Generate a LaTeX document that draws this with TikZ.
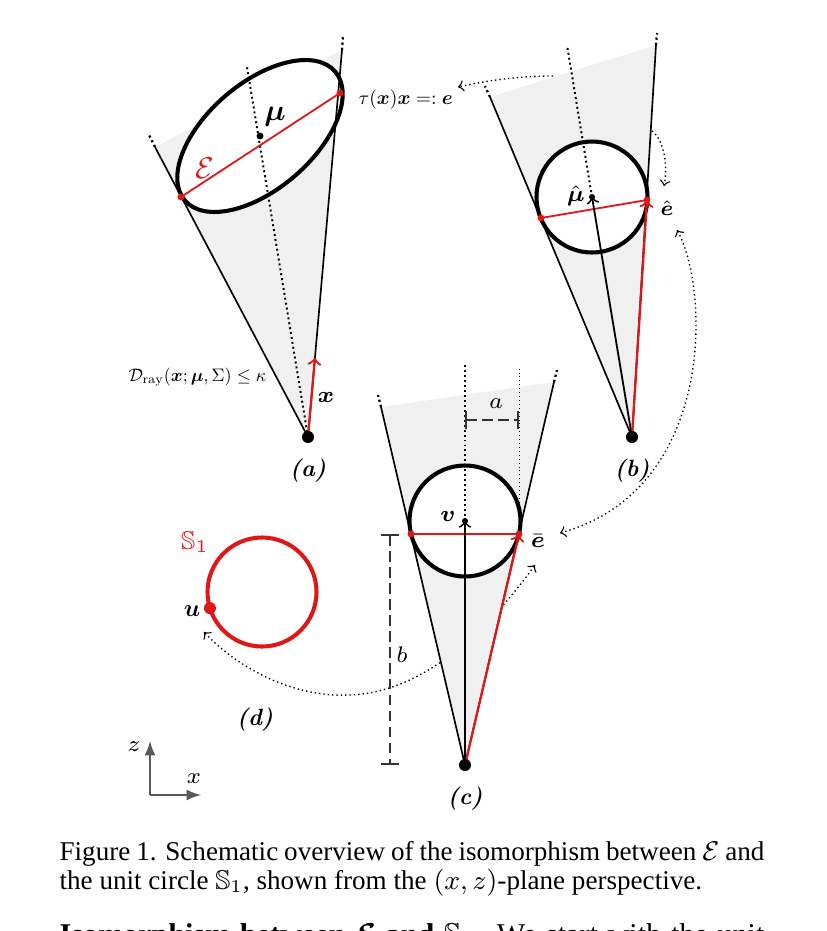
\RequirePackage{fix-cm}
\documentclass[tikz,border=0pt]{standalone}
\usepackage{amsmath,amssymb}
\usepackage{fontspec}
\newfontfamily\capfont{Liberation Serif}
\usepackage{tikz}
\usetikzlibrary{calc, arrows, positioning}
\definecolor{ered}{RGB}{222,24,24}
\definecolor{coneg}{gray}{0.94}

\tikzset{
  cone/.style={fill=coneg},
  coneside/.style={line width=0.55pt},
  sidetip/.style={line width=0.75pt, densely dotted},
  axisdot/.style={line width=0.65pt, densely dotted},
  blob/.style={line width=1.35pt, fill=white},
  chord/.style={ered, line width=0.6pt},
  redvec/.style={ered, line width=0.75pt, ->},
  blkvec/.style={line width=0.6pt, ->},
  rdot/.style={circle, fill=ered, inner sep=0pt, minimum size=2.3pt},
  bdot/.style={circle, fill=black, inner sep=0pt, minimum size=#1},
  link/.style={line width=0.45pt, densely dotted},
  dimline/.style={black!80, line width=0.55pt, dash pattern=on 3.5pt off 1.8pt, |-|},
  panel/.style={font=\fontsize{7.8}{9}\selectfont\bfseries\itshape, inner sep=0pt},
  smalllab/.style={font=\fontsize{10}{12}\selectfont, inner sep=0pt, anchor=base west},
  midlab/.style={font=\fontsize{7.5}{9}\selectfont, inner sep=0pt},
  biglab/.style={font=\fontsize{10}{12}\selectfont, inner sep=0pt},
  captext/.style={font=\fontsize{9}{10}\selectfont\capfont, inner sep=0pt, anchor=base west},
}

\begin{document}
\begin{tikzpicture}[x=0.332pt, y=-0.332pt]
\useasboundingbox (0,0) rectangle (826,931);
\clip (0,0) rectangle (826,931);

% (a)
\coordinate (A) at (308,437);
\coordinate (aL) at (155,147);
\coordinate (aLx) at (148,133);
\coordinate (aR) at (342,50);
\coordinate (aRx) at (343,35);
\coordinate (aE) at (260,136);
\coordinate (aT) at (247,67);
\coordinate (aP) at (181,197);
\coordinate (aQ) at (340,93);
% (b)
\coordinate (B) at (632,437);
\coordinate (bL) at (490,97);
\coordinate (bLx) at (485,86);
\coordinate (bR) at (656,45);
\coordinate (bRx) at (657,33);
\coordinate (bE) at (592,197);
\coordinate (bT) at (567,45);
\coordinate (bP) at (541,218);
\coordinate (bQ) at (647,200);
% (c)
\coordinate (C) at (465,765);
\coordinate (cL) at (381,407);
\coordinate (cLx) at (378,395);
\coordinate (cR) at (554,382);
\coordinate (cRx) at (557,370);
\coordinate (cE) at (465,521);
\coordinate (cT) at (465,362);
\coordinate (cP) at (411,534);
\coordinate (cQ) at (519,534);
\coordinate (cQt) at (519,368);
\coordinate (dimA1) at (465,420);
\coordinate (dimA2) at (519,420);
\coordinate (dimB1) at (390,534);
\coordinate (dimB2) at (390,765);
% (d)
\coordinate (dE) at (262,592);
\coordinate (dU) at ($(dE)+(162.8:54.5)$);
% links
\coordinate (l1s) at (553,76);
\coordinate (l1e) at (458,87);
\coordinate (l2s) at (652,131);
\coordinate (l2e) at (664,186);
\coordinate (l3s) at (677,230);
\coordinate (l3e) at (560,533);
\coordinate (l4s) at (535,565);
\coordinate (l4m) at (350,695);
\coordinate (l4e) at (204,632);
% axes
\coordinate (O) at (150,795);
\coordinate (Oz) at (150,741);
\coordinate (Ox) at (201,795);

% dotted links go under the cones
\draw[link, ->] (l1s) .. controls (520,76) and (490,80) .. (l1e);
\draw[link, ->] (l2s) .. controls (664,140) and (668,165) .. (l2e);
\draw[link, <->] (l3s) .. controls (710,290) and (715,490) .. (l3e);
\draw[link, <->] (l4s) .. controls (495,620) and (430,692) .. (l4m)
  .. controls (290,698) and (235,665) .. (l4e);

\fill[cone] (A) -- (aL) -- (aR) -- cycle;
\fill[cone] (B) -- (bL) -- (bR) -- cycle;
\fill[cone] (C) -- (cL) -- (cR) -- cycle;

\draw[blob, rotate around={40.6:(aE)}] (aE) ellipse [x radius=99, y radius=53];
\draw[blob] (bE) circle [radius=55.5];
\draw[blob] (cE) circle [radius=55.5];
\draw[ered, line width=1.35pt] (dE) circle [radius=54.5];

% cone sides
\draw[coneside] (A) -- (aL);
\draw[coneside] (A) -- (aR);
\draw[sidetip] (aL) -- (aLx);
\draw[sidetip] (aR) -- (aRx);
\draw[coneside] (B) -- (bL);
\draw[coneside] (B) -- (bR);
\draw[sidetip] (bL) -- (bLx);
\draw[sidetip] (bR) -- (bRx);
\draw[coneside] (C) -- (cL);
\draw[coneside] (C) -- (cR);
\draw[sidetip] (cL) -- (cLx);
\draw[sidetip] (cR) -- (cRx);

\draw[axisdot] (A) -- (aT);
\draw[axisdot] (bE) -- (bT);
\draw[axisdot] (cE) -- (cT);
\draw[line width=0.3pt, densely dotted] (cQ) -- (cQt);

\draw[dimline] (dimA1) -- (dimA2);
\draw[dimline] (dimB1) -- (dimB2);

\draw[chord] (aP) -- (aQ);
\draw[chord] (bP) -- (bQ);
\draw[chord] (cP) -- (cQ);

\draw[redvec] (A) -- ($(A)!0.205!(aR)$);
\draw[blkvec] (B) -- (bE);
\draw[redvec] (B) -- (bQ);
\draw[blkvec] (C) -- (cE);
\draw[redvec] (C) -- (cQ);

\node[bdot=4pt] (Adot) at (A) {};
\node[bdot=4pt] (Bdot) at (B) {};
\node[bdot=4pt] (Cdot) at (C) {};
\node[bdot=2.3pt] (aMu) at (aE) {};
\node[bdot=2pt] (bMu) at (bE) {};
\node[bdot=2pt] (cV) at (cE) {};
\node[rdot] (aPd) at (aP) {};
\node[rdot] (aQd) at (aQ) {};
\node[rdot] (bPd) at (bP) {};
\node[rdot] (bQd) at (bQ) {};
\node[rdot] (cPd) at (cP) {};
\node[rdot] (cQd) at (cQ) {};
\node[circle, fill=ered, inner sep=0pt, minimum size=4pt] (uDot) at (dU) {};

% labels
\node[biglab] (muL) at (275,117) {$\boldsymbol{\mu}$};
\node[biglab, text=ered] (calE) at (205,168) {$\mathcal{E}$};
\node[smalllab] (tauL) at (358,104) {\scalebox{0.65}{$\tau(\boldsymbol{x})\boldsymbol{x} =: \boldsymbol{e}$}};
\node[smalllab] (rayL) at (128,381) {\scalebox{0.6}{$\mathcal{D}_{\mathrm{ray}}(\boldsymbol{x};\boldsymbol{\mu},\Sigma)\leq\kappa$}};
\node[midlab] (xL) at (326,397) {$\boldsymbol{x}$};
\node[panel, below=7pt of A] (capA) {(a)};

\node[midlab] (muhL) at (576,196) {$\hat{\boldsymbol{\mu}}$};
\node[midlab, font=\fontsize{7}{8}\selectfont] (ehL) at (667,208) {$\hat{\boldsymbol{e}}$};
\node[panel, below=7pt of B] (capB) {(b)};

\node[midlab] (vL) at (448,516) {$\boldsymbol{v}$};
\node[midlab] (ebL) at (538,541) {$\bar{\boldsymbol{e}}$};
\node[midlab] (lenA) at (496,404) {$a$};
\node[midlab] (lenB) at (402,655) {$b$};
\node[panel, below=7pt of C] (capC) {(c)};

\node[midlab, font=\fontsize{8.5}{10}\selectfont, text=ered] (sL) at (195,542) {$\mathbb{S}_1$};
\node[midlab, font=\fontsize{8}{10}\selectfont] (uL) at (192,611) {$\boldsymbol{u}$};
\node[panel] (capD) at (255,720) {(d)};

% axes
\draw[black!65, line width=0.65pt, -latex] (O) -- (Oz);
\draw[black!65, line width=0.65pt, -latex] (O) -- (Ox);
\node[midlab] (zL) at (134,747) {$z$};
\node[midlab] (xAx) at (194,779) {$x$};

% caption
\node[captext] (cap1) at (59,860) {\makebox[234pt][s]{Figure 1. Schematic overview of the isomorphism between $\mathcal{E}$ and}};
\node[captext] (cap2) at (59,889) {the unit circle $\mathbb{S}_1$, shown from the $(x,z)$-plane perspective.};
\node[captext, font=\fontsize{10}{12}\selectfont\capfont] (para) at (59,944) {\makebox[234pt][s]{\textbf{Isomorphism between $\boldsymbol{\mathcal{E}}$ and $\mathbb{S}_{\mathbf{1}}$.} We start with the unit}};
\end{tikzpicture}
\end{document}
